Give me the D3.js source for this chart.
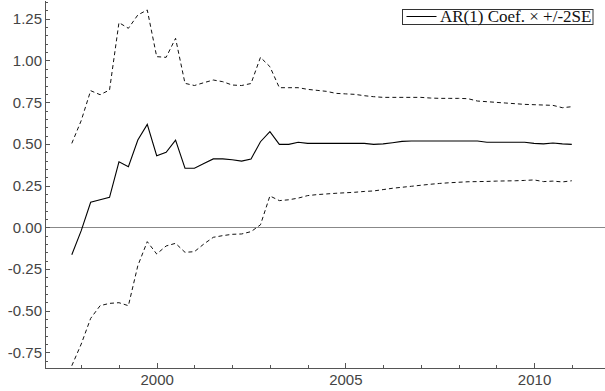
<!DOCTYPE html>
<html lang="en">
<head>
<meta charset="UTF-8">
<script src="https://d3js.org/d3.v7.min.js"></script>
<style>
    body { margin: 0; background: #fff; }
    .axis path, .axis line { stroke: #555; shape-rendering: crispEdges; }
    .axis text { font-family: "Liberation Sans", Arial, sans-serif; font-size: 15px; fill: #444; }
</style>
</head>
<body>
<svg id="chart" width="605" height="391"></svg>
<script>
// quarterly dates (decimal years)
var dates = [1997.75, 1998.00, 1998.25, 1998.50, 1998.75, 1999.00, 1999.25, 1999.50, 1999.75,
    2000.00, 2000.25, 2000.50, 2000.75, 2001.00, 2001.25, 2001.50, 2001.75,
    2002.00, 2002.25, 2002.50, 2002.75, 2003.00, 2003.25, 2003.50, 2003.75,
    2004.00, 2004.25, 2004.50, 2004.75, 2005.00, 2005.25, 2005.50, 2005.75,
    2006.00, 2006.25, 2006.50, 2006.75, 2007.00, 2007.25, 2007.50, 2007.75,
    2008.00, 2008.25, 2008.50, 2008.75, 2009.00, 2009.25, 2009.50, 2009.75,
    2010.00, 2010.25, 2010.50, 2010.75, 2011.00];

var coef = [-0.165, -0.02, 0.15, 0.165, 0.18, 0.393, 0.363, 0.523, 0.617,
    0.429, 0.45, 0.523, 0.354, 0.354, 0.383, 0.41, 0.41,
    0.405, 0.397, 0.41, 0.513, 0.573, 0.497, 0.497, 0.51,
    0.503, 0.503, 0.503, 0.503, 0.503, 0.503, 0.503, 0.497,
    0.50, 0.507, 0.515, 0.517, 0.517, 0.517, 0.517, 0.517,
    0.517, 0.517, 0.517, 0.51, 0.51, 0.51, 0.51, 0.51,
    0.503, 0.50, 0.505, 0.50, 0.497];

var upper = [0.503, 0.64, 0.819, 0.795, 0.823, 1.227, 1.193, 1.273, 1.303,
    1.023, 1.019, 1.133, 0.863, 0.85, 0.867, 0.883, 0.873,
    0.853, 0.85, 0.862, 1.019, 0.963, 0.837, 0.837, 0.837,
    0.827, 0.821, 0.815, 0.803, 0.80, 0.797, 0.789, 0.783,
    0.779, 0.779, 0.779, 0.779, 0.779, 0.775, 0.773, 0.773,
    0.773, 0.771, 0.757, 0.753, 0.749, 0.745, 0.741, 0.737,
    0.735, 0.733, 0.731, 0.717, 0.723];

var lower = [-0.83, -0.70, -0.546, -0.47, -0.456, -0.452, -0.47, -0.23, -0.086,
    -0.16, -0.112, -0.096, -0.15, -0.146, -0.10, -0.06, -0.05,
    -0.042, -0.04, -0.026, 0.015, 0.188, 0.16, 0.165, 0.175,
    0.19, 0.196, 0.20, 0.204, 0.207, 0.21, 0.215, 0.218,
    0.226, 0.234, 0.24, 0.246, 0.252, 0.258, 0.263, 0.267,
    0.27, 0.273, 0.274, 0.275, 0.277, 0.278, 0.279, 0.281,
    0.284, 0.274, 0.277, 0.272, 0.279];

var xTicks = [2000, 2005, 2010];
var yTicks = [-0.75, -0.5, -0.25, 0, 0.25, 0.5, 0.75, 1.0, 1.25];
var legendLabel = "AR(1) Coef. \u00d7 +/-2SE";

(function () {
    var svg = d3.select("#chart");
    var mLeft = 45, mRight = 605, mTop = 0, mBottom = 368;

    var x = d3.scaleLinear().domain([1997.04, 2011.88]).range([mLeft, mRight]);
    var y = d3.scaleLinear().domain([-0.8435, 1.3627]).range([mBottom, mTop]);

    // zero line
    svg.append("line")
        .attr("x1", mLeft).attr("x2", mRight)
        .attr("y1", Math.round(y(0)) + 0.5).attr("y2", Math.round(y(0)) + 0.5)
        .attr("stroke", "#888").attr("stroke-width", 1);

    // minor ticks
    svg.append("g").attr("class", "axis")
        .attr("transform", "translate(" + mLeft + ",0)")
        .call(d3.axisLeft(y).tickValues(d3.range(-80, 136, 5).map(function (d) { return d / 100; }))
            .tickSize(-3).tickFormat(""))
        .select(".domain").remove();
    svg.append("g").attr("class", "axis")
        .attr("transform", "translate(0," + mBottom + ")")
        .call(d3.axisBottom(x).tickValues(d3.range(1998, 2012)).tickSize(-3).tickFormat(""))
        .select(".domain").remove();

    // major ticks + labels
    svg.append("g").attr("class", "axis")
        .attr("transform", "translate(" + mLeft + ",0)")
        .call(d3.axisLeft(y).tickValues(yTicks).tickSize(-5).tickSizeOuter(0).tickPadding(3)
            .tickFormat(function (d) { return d.toFixed(2); }));
    svg.append("g").attr("class", "axis")
        .attr("transform", "translate(0," + mBottom + ")")
        .call(d3.axisBottom(x).tickValues(xTicks).tickSize(-5).tickSizeOuter(0).tickPadding(6)
            .tickFormat(d3.format("d")));

    var line = function (vals) {
        return d3.line()
            .x(function (d, i) { return x(dates[i]); })
            .y(function (d) { return y(d); })(vals);
    };

    svg.append("path").attr("d", line(upper))
        .attr("fill", "none").attr("stroke", "#111").attr("stroke-width", 1)
        .attr("stroke-dasharray", "4,3");
    svg.append("path").attr("d", line(lower))
        .attr("fill", "none").attr("stroke", "#111").attr("stroke-width", 1)
        .attr("stroke-dasharray", "4,3");
    svg.append("path").attr("d", line(coef))
        .attr("fill", "none").attr("stroke", "#000").attr("stroke-width", 1.1);

    // legend
    var lg = svg.append("g");
    lg.append("rect")
        .attr("x", 402.5).attr("y", 9.5).attr("width", 190.5).attr("height", 15)
        .attr("fill", "#fff").attr("stroke", "#333");
    lg.append("line")
        .attr("x1", 406.5).attr("x2", 436.5).attr("y1", 16.5).attr("y2", 16.5)
        .attr("stroke", "#000");
    lg.append("text")
        .attr("x", 440).attr("y", 21.5)
        .attr("font-family", "Liberation Serif, Times New Roman, serif")
        .attr("font-size", 17)
        .attr("fill", "#111")
        .text(legendLabel);
})();
</script>
</body>
</html>
